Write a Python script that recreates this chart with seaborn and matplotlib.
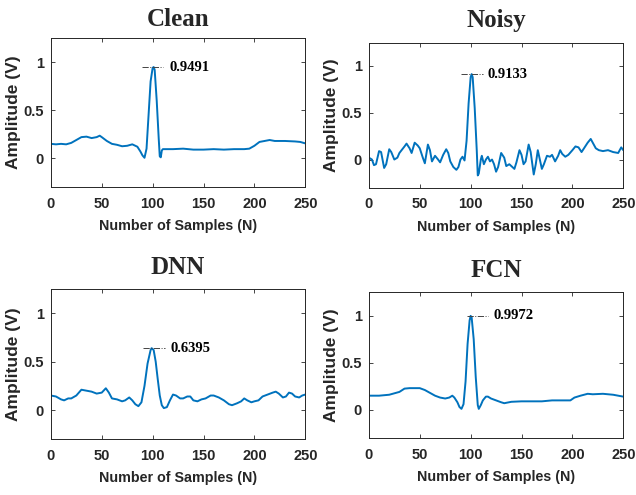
import matplotlib
matplotlib.use("Agg")
import matplotlib.pyplot as plt
import seaborn as sns
import pandas as pd

# ---------------- data ----------------
clean_x = [0, 5, 10, 15, 20, 25, 30, 35, 40, 45, 48, 50, 55, 60, 65, 70, 75, 80, 85, 88, 90, 92,
           94, 96, 98, 100, 101, 102, 104, 106, 107, 108, 109, 110, 120, 130, 140, 150, 160, 170,
           180, 190, 195, 200, 205, 210, 215, 220, 230, 240, 245, 250]
clean_y = [0.15, 0.145, 0.15, 0.145, 0.16, 0.19, 0.22, 0.225, 0.21, 0.22, 0.235, 0.22, 0.18, 0.15,
           0.14, 0.125, 0.13, 0.145, 0.12, 0.07, 0.03, 0.005, 0.10, 0.45, 0.80, 0.94, 0.9491, 0.92,
           0.60, 0.20, 0.02, 0.01, 0.08, 0.095, 0.095, 0.10, 0.09, 0.09, 0.095, 0.09, 0.095, 0.095,
           0.10, 0.13, 0.17, 0.18, 0.19, 0.18, 0.18, 0.175, 0.17, 0.155]

noisy_x = [0, 3, 5, 7, 10, 12, 15, 17, 20, 22, 25, 28, 30, 35, 37, 40, 42, 45, 48, 50, 53, 55, 58,
           60, 62, 65, 68, 70, 73, 76, 78, 80, 83, 86, 88, 90, 92, 94, 96, 98, 100, 101, 102, 104,
           106, 107, 108, 110, 111, 113, 115, 117, 119, 121, 123, 125, 127, 130, 133, 135, 138,
           140, 143, 145, 148, 150, 152, 154, 157, 159, 161, 162, 164, 166, 168, 170, 172, 175,
           178, 180, 183, 186, 188, 190, 193, 196, 200, 203, 206, 209, 212, 215, 218, 220, 223,
           226, 230, 235, 240, 245, 248, 250]
noisy_y = [0.02, 0.0, -0.06, -0.05, 0.09, 0.08, -0.09, -0.05, 0.11, 0.08, 0.0, 0.02, 0.07, 0.14,
           0.17, 0.12, 0.07, 0.18, 0.15, 0.12, 0.02, -0.04, 0.16, 0.10, -0.02, 0.04, 0.0, -0.03,
           0.05, 0.11, 0.07, -0.02, -0.08, -0.11, -0.08, 0.0, 0.03, -0.01, 0.20, 0.60, 0.88,
           0.9133, 0.88, 0.55, 0.10, -0.17, -0.15, 0.0, 0.04, -0.05, 0.0, 0.03, -0.02, 0.0, -0.05,
           -0.13, -0.08, 0.07, 0.02, -0.07, -0.05, -0.07, -0.10, -0.03, 0.10, 0.05, -0.05, -0.02,
           0.16, 0.08, -0.08, -0.16, -0.05, 0.10, 0.0, -0.10, -0.05, 0.04, 0.03, 0.05, -0.02, 0.04,
           0.10, 0.06, 0.03, 0.05, 0.10, 0.14, 0.13, 0.08, 0.13, 0.18, 0.22, 0.18, 0.12, 0.10,
           0.09, 0.10, 0.08, 0.07, 0.13, 0.10]

dnn_x = [0, 5, 10, 13, 17, 20, 25, 30, 35, 40, 45, 50, 54, 57, 60, 65, 70, 73, 77, 80, 83, 86, 89,
         92, 95, 98, 99, 101, 103, 105, 107, 109, 111, 114, 117, 120, 123, 127, 130, 134, 137, 140,
         144, 148, 152, 157, 160, 165, 170, 175, 178, 183, 187, 190, 193, 197, 200, 204, 208, 213,
         218, 221, 224, 228, 231, 234, 237, 240, 244, 247, 250]
dnn_y = [0.15, 0.14, 0.11, 0.10, 0.12, 0.12, 0.15, 0.21, 0.20, 0.19, 0.17, 0.18, 0.225, 0.18,
         0.12, 0.11, 0.09, 0.10, 0.13, 0.10, 0.06, 0.04, 0.08, 0.25, 0.48, 0.62, 0.6395, 0.62,
         0.50, 0.32, 0.15, 0.05, 0.02, 0.03, 0.10, 0.16, 0.15, 0.12, 0.12, 0.14, 0.14, 0.10, 0.09,
         0.11, 0.12, 0.15, 0.15, 0.13, 0.10, 0.06, 0.05, 0.07, 0.09, 0.12, 0.10, 0.08, 0.09, 0.10,
         0.14, 0.16, 0.18, 0.19, 0.17, 0.13, 0.14, 0.18, 0.17, 0.14, 0.13, 0.15, 0.16]

fcn_x = [0, 10, 20, 30, 35, 40, 50, 55, 60, 65, 70, 75, 79, 82, 84, 87, 89, 91, 93, 95, 97, 99,
         100, 101, 103, 105, 107, 108, 110, 112, 115, 117, 120, 125, 130, 133, 140, 150, 160, 170,
         180, 190, 198, 202, 208, 215, 220, 230, 240, 250]
fcn_y = [0.15, 0.15, 0.16, 0.19, 0.225, 0.23, 0.23, 0.21, 0.18, 0.15, 0.13, 0.12, 0.13, 0.15,
         0.13, 0.08, 0.03, 0.01, 0.06, 0.30, 0.70, 0.95, 0.9972, 0.98, 0.75, 0.35, 0.05, 0.01,
         0.05, 0.10, 0.14, 0.14, 0.12, 0.10, 0.08, 0.07, 0.085, 0.09, 0.09, 0.09, 0.10, 0.10,
         0.10, 0.13, 0.15, 0.17, 0.165, 0.17, 0.16, 0.14]

titles = ["Clean", "Noisy", "DNN", "FCN"]
peak_labels = ["0.9491", "0.9133", "0.6395", "0.9972"]
peak_x = [101, 101, 99, 100]
peak_y = [0.9491, 0.9133, 0.6395, 0.9972]
x_ticks = [0, 50, 100, 150, 200, 250]
y_ticks = [0, 0.5, 1]
y_tick_labels = ["0", "0.5", "1"]

# ---------------- style ----------------
sns.set_theme(style="ticks")
plt.rcParams["font.family"] = ["Liberation Sans", "DejaVu Sans"]
plt.rcParams["xtick.direction"] = "in"
plt.rcParams["ytick.direction"] = "in"

blue = "#0072BD"
ink = "#262626"
serif = ["Liberation Serif", "DejaVu Serif"]
fig = plt.figure(figsize=(6.36, 4.95), dpi=100)
rects = [
    [0.080, 0.622, 0.400, 0.301],
    [0.580, 0.621, 0.400, 0.293],
    [0.080, 0.113, 0.400, 0.303],
    [0.580, 0.115, 0.400, 0.295],
]
title_pads = [9, 11, 10.5, 11]
series = [(clean_x, clean_y), (noisy_x, noisy_y), (dnn_x, dnn_y), (fcn_x, fcn_y)]
tip_offsets = [(-11, 9, 16), (-10, 11, 16), (-8, 13, 19), (-4, 17, 22)]

for i, (rect, (xs, ys)) in enumerate(zip(rects, series)):
    ax = fig.add_axes(rect)
    df = pd.DataFrame({"N": xs, "A": ys})
    sns.lineplot(data=df, x="N", y="A", ax=ax, color=blue, linewidth=1.4)
    ax.set_xlim(0, 250)
    ax.set_ylim(-0.3, 1.25)
    ax.set_xticks(x_ticks)
    ax.set_yticks(y_ticks)
    ax.set_yticklabels(y_tick_labels)
    ax.tick_params(axis="both", which="both", top=True, right=True, length=3,
                   width=0.6, color=ink, labelsize=10.5, labelcolor=ink)
    ax.tick_params(axis="x", pad=7)
    ax.tick_params(axis="y", pad=5)
    for lab in ax.get_xticklabels() + ax.get_yticklabels():
        lab.set_fontweight("bold")
    for sp in ax.spines.values():
        sp.set_visible(True)
        sp.set_linewidth(0.7)
        sp.set_color(ink)
    ax.set_xlabel("Number of Samples (N)", fontsize=10.3, fontweight="bold", color=ink, labelpad=6)
    ax.set_ylabel("Amplitude (V)", fontsize=12.5, fontweight="bold", color=ink, labelpad=2)
    ax.set_title(titles[i], fontsize=18, fontweight="bold", family=serif, pad=title_pads[i])
    lo, hi, tx = tip_offsets[i]
    ax.plot([peak_x[i] + lo, peak_x[i] + hi], [peak_y[i], peak_y[i]], color="#444444",
            linestyle="-.", linewidth=0.7)
    ax.text(peak_x[i] + tx, peak_y[i], peak_labels[i], fontsize=10.5, fontweight="bold",
            family=serif, va="center", ha="left", color="black")

fig.savefig("out.png", dpi=100)
